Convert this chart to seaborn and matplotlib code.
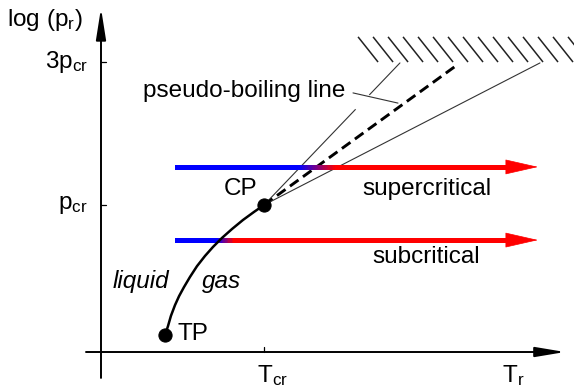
import numpy as np
import pandas as pd
import matplotlib
matplotlib.use("Agg")
import matplotlib.pyplot as plt
from matplotlib.collections import LineCollection
from matplotlib.colors import to_rgb
import seaborn as sns

# Diagram coordinates: x = T / T_cr, y = log10(p / p_cr)
# Vapour-pressure curve from the triple point to the critical point
curve_T = [0.393, 0.411, 0.429, 0.454, 0.479, 0.509, 0.546, 0.589, 0.638,
           0.687, 0.742, 0.804, 0.871, 0.939, 1.000]
curve_logp = [-0.434, -0.404, -0.370, -0.334, -0.304, -0.274, -0.240, -0.204,
              -0.170, -0.140, -0.110, -0.080, -0.050, -0.023, 0.000]

point_names = ["TP", "CP"]
point_T = [0.393, 1.0]
point_logp = [-0.434, 0.0]

# Isobaric heating paths (supercritical / subcritical)
path_names = ["supercritical", "subcritical"]
path_logp = [0.127, -0.117]
path_T_start = [0.466, 0.466]
path_T_end = [2.681, 2.681]
path_blue_end = [1.221, 0.718]
path_red_start = [1.448, 0.822]

# Pseudo-boiling fan from the critical point
fan_T_end = [1.834, 2.184, 2.693]
fan_logp_end = [0.474, 0.467, 0.474]
fan_dashed = [False, True, False]

# Axis ticks
y_tick_vals = [0.0, np.log10(3)]
y_tick_labels = [r"p$_{cr}$", r"3p$_{cr}$"]
x_tick_vals = [1.0]

sns.set_theme(style="white")
plt.rcParams["font.family"] = ["Liberation Sans", "DejaVu Sans"]
plt.rcParams["text.color"] = "black"
plt.rcParams["mathtext.fontset"] = "custom"
plt.rcParams["mathtext.rm"] = "Liberation Sans"
plt.rcParams["mathtext.it"] = "Liberation Sans:italic"
plt.rcParams["mathtext.default"] = "regular"

FS = 17.5
fig = plt.figure(figsize=(5.74, 3.88), dpi=100)
ax = fig.add_axes([0, 0, 1, 1])
ax.set_xlim(-0.6196, 2.9018)
ax.set_ylim(-0.6106, 0.6840)
ax.axis("off")

x_axis_y = -0.4905
# Axes drawn as arrows
ax.annotate("", xy=(0, 0.657), xytext=(0, -0.577),
            arrowprops=dict(arrowstyle="-|>,head_length=1.9,head_width=0.3",
                            lw=1.4, color="black", mutation_scale=10,
                            shrinkA=0, shrinkB=0))
ax.annotate("", xy=(2.847, x_axis_y), xytext=(-0.092, x_axis_y),
            arrowprops=dict(arrowstyle="-|>,head_length=1.8,head_width=0.3",
                            lw=1.4, color="black", mutation_scale=10,
                            shrinkA=0, shrinkB=0))
for yv in y_tick_vals:
    ax.plot([0, 0.031], [yv, yv], color="black", lw=0.9)
for xv in x_tick_vals:
    ax.plot([xv, xv], [x_axis_y, x_axis_y + 0.017], color="black", lw=0.9)

for yv, lab in zip(y_tick_vals, y_tick_labels):
    ax.text(-0.08, yv, lab, ha="right", va="center", fontsize=FS)
ax.text(-0.344, 0.617, r"log (p$_r$)", ha="center", va="center", fontsize=FS)
ax.text(0.957, -0.527, r"T$_{cr}$", ha="left", va="top", fontsize=FS)
ax.text(2.460, -0.527, r"T$_r$", ha="left", va="top", fontsize=FS)

# Hatched limit at the top
hatch_left = np.linspace(1.577, 1.577 + 0.092 * 14, 15)
for hx in hatch_left:
    ax.plot([hx, hx + 0.1227], [0.561, 0.477], color="#222222", lw=1.1,
            solid_capstyle="butt")

# Fan of lines from the critical point
cp_T, cp_p = point_T[1], point_logp[1]
for te, pe, dashed in zip(fan_T_end, fan_logp_end, fan_dashed):
    if dashed:
        ax.plot([cp_T, te], [cp_p, pe], color="black", lw=2.1,
                dashes=(3.6, 1.9))
    else:
        ax.plot([cp_T, te], [cp_p, pe], color="#333333", lw=0.8)

# gap in the upper thin line next to the label
slope = (fan_logp_end[0] - cp_p) / (fan_T_end[0] - cp_T)
g0, g1 = 1.562, 1.646
ax.plot([g0, g1], [cp_p + slope * (g0 - cp_T), cp_p + slope * (g1 - cp_T)],
        color="white", lw=3, solid_capstyle="butt")
ax.plot([1.546, 1.822], [0.374, 0.340], color="#333333", lw=0.8)
ax.text(0.258, 0.360, "pseudo-boiling line", ha="left", va="baseline",
        fontsize=FS)

# Isobars with blue-to-red colour change
blue = np.array(to_rgb("#0000ff"))
red = np.array(to_rgb("#ff0000"))
head_len = 0.19
for name, yp, xs, xe, be, rs in zip(path_names, path_logp, path_T_start,
                                    path_T_end, path_blue_end, path_red_start):
    xx = np.linspace(xs, xe - head_len + 0.01, 200)
    frac = np.clip((xx - be) / (rs - be), 0, 1)
    cols = blue[None, :] * (1 - frac[:, None]) + red[None, :] * frac[:, None]
    segs = [[(xx[i], yp), (xx[i + 1], yp)] for i in range(len(xx) - 1)]
    lc = LineCollection(segs, colors=cols[:-1], linewidths=3.6,
                        capstyle="projecting", antialiaseds=False)
    ax.add_collection(lc)
    ax.plot([xs, xs + 0.001], [yp, yp], color="#0000ff", lw=3.6,
            solid_capstyle="round")
    ax.annotate("", xy=(xe, yp), xytext=(xe - head_len, yp),
                arrowprops=dict(arrowstyle="-|>,head_length=2.2,head_width=0.5",
                                lw=0.5, color="#ff0000", mutation_scale=10,
                                shrinkA=0, shrinkB=0))

ax.text(1.601, 0.033, "supercritical", ha="left", va="baseline", fontsize=FS)
ax.text(1.663, -0.194, "subcritical", ha="left", va="baseline", fontsize=FS)

# Vapour-pressure curve and its end points
curve = pd.DataFrame({"T": curve_T, "logp": curve_logp})
sns.lineplot(data=curve, x="T", y="logp", sort=False, color="black",
             lw=1.8, ax=ax, legend=False)
pts = pd.DataFrame({"name": point_names, "T": point_T, "logp": point_logp})
sns.scatterplot(data=pts, x="T", y="logp", color="black", s=90,
                edgecolor="black", zorder=5, ax=ax, legend=False)
ax.axis("off")
ax.set_xlim(-0.6196, 2.9018)
ax.set_ylim(-0.6106, 0.6840)

ax.text(0.859, 0.053, "CP", ha="center", va="center", fontsize=FS)
ax.text(0.472, -0.430, "TP", ha="left", va="center", fontsize=FS)
ax.text(0.074, -0.277, "liquid", ha="left", va="baseline", fontsize=FS,
        style="italic")
ax.text(0.620, -0.277, "gas", ha="left", va="baseline", fontsize=FS,
        style="italic")

fig.savefig("out.png", dpi=100)
